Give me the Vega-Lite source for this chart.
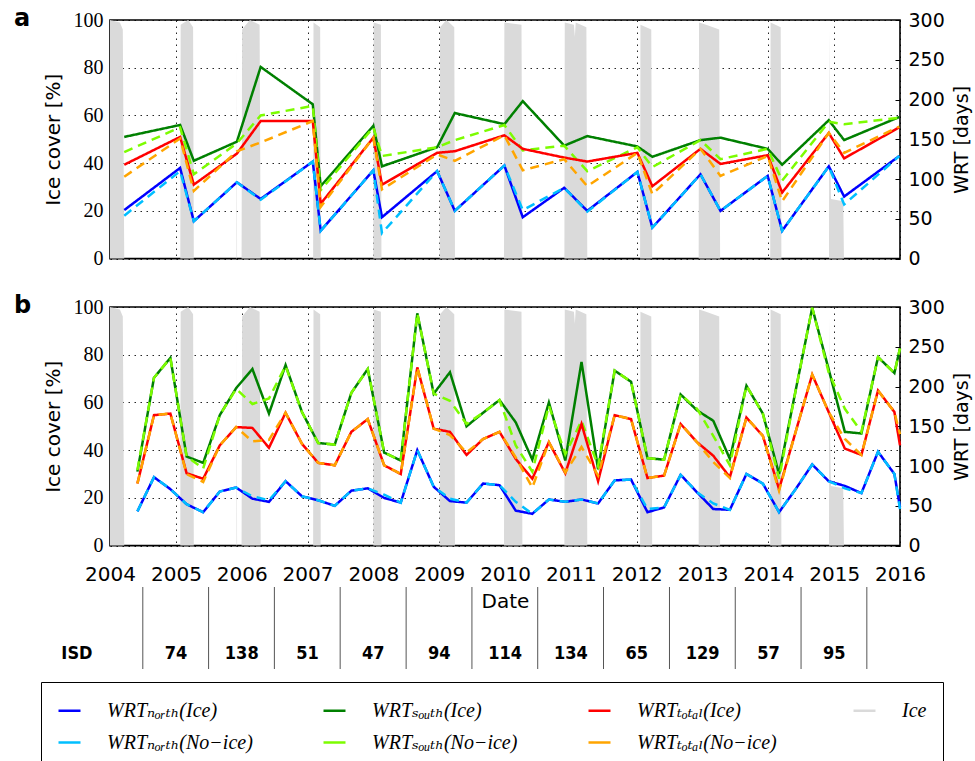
{
  "$schema": "https://vega.github.io/schema/vega-lite/v6.json",
  "background": "white",
  "padding": {"left": 13, "top": 6, "right": 2, "bottom": 0},
  "config": {
    "view": {"stroke": "#000", "strokeWidth": 1.6},
    "axis": {"domain": false, "gridColor": "#000", "gridDash": [1.5, 4.5], "gridOpacity": 0.85, "gridWidth": 1, "labelColor": "#000", "titleColor": "#000", "tickColor": "#000", "titleFontWeight": "normal", "zindex": 1},
    "legend": {
      "orient": "none", "legendX": -69, "legendY": 662, "columns": 4, "direction": "horizontal", "title": null, "gridAlign": "all",
      "symbolType": "stroke", "symbolSize": 484, "symbolStrokeWidth": 2.5,
      "labelFont": "Liberation Serif, DejaVu Serif", "labelFontStyle": "italic", "labelFontSize": 20, "labelLimit": 400, "labelColor": "#000",
      "labelOffset": 25, "columnPadding": 65, "rowPadding": 9, "padding": 16,
      "strokeColor": "#000", "fillColor": "white"
    }
  },
  "datasets": {
    "ice": [
      {"date": "2004-01-01", "ice": 100}, {"date": "2004-02-25", "ice": 99}, {"date": "2004-03-12", "ice": 96}, {"date": "2004-03-20", "ice": 0},
      {"date": "2005-01-25", "ice": 0}, {"date": "2005-01-27", "ice": 98}, {"date": "2005-03-10", "ice": 100}, {"date": "2005-04-06", "ice": 97}, {"date": "2005-04-10", "ice": 0},
      {"date": "2005-12-03", "ice": 0}, {"date": "2005-12-04", "ice": 90}, {"date": "2005-12-06", "ice": 0},
      {"date": "2005-12-31", "ice": 0}, {"date": "2006-01-03", "ice": 96}, {"date": "2006-02-15", "ice": 100}, {"date": "2006-04-10", "ice": 98}, {"date": "2006-04-16", "ice": 0},
      {"date": "2007-02-01", "ice": 0}, {"date": "2007-02-03", "ice": 99}, {"date": "2007-03-12", "ice": 97}, {"date": "2007-03-15", "ice": 0},
      {"date": "2008-01-01", "ice": 0}, {"date": "2008-01-03", "ice": 99}, {"date": "2008-02-12", "ice": 98}, {"date": "2008-02-15", "ice": 0},
      {"date": "2009-01-03", "ice": 0}, {"date": "2009-01-05", "ice": 97}, {"date": "2009-02-10", "ice": 100}, {"date": "2009-03-25", "ice": 97}, {"date": "2009-03-29", "ice": 0},
      {"date": "2009-12-26", "ice": 0}, {"date": "2009-12-28", "ice": 99}, {"date": "2010-04-02", "ice": 98}, {"date": "2010-04-07", "ice": 0},
      {"date": "2010-11-26", "ice": 0}, {"date": "2010-11-28", "ice": 99}, {"date": "2011-01-18", "ice": 98}, {"date": "2011-01-23", "ice": 93}, {"date": "2011-01-28", "ice": 99}, {"date": "2011-03-28", "ice": 97}, {"date": "2011-04-02", "ice": 0},
      {"date": "2012-01-20", "ice": 0}, {"date": "2012-01-22", "ice": 98}, {"date": "2012-03-22", "ice": 96}, {"date": "2012-03-27", "ice": 0},
      {"date": "2012-12-10", "ice": 0}, {"date": "2012-12-12", "ice": 99}, {"date": "2013-01-20", "ice": 98}, {"date": "2013-04-03", "ice": 96}, {"date": "2013-04-08", "ice": 0},
      {"date": "2014-01-11", "ice": 0}, {"date": "2014-01-13", "ice": 99}, {"date": "2014-03-10", "ice": 97}, {"date": "2014-03-14", "ice": 0},
      {"date": "2014-12-03", "ice": 0}, {"date": "2014-12-05", "ice": 96}, {"date": "2014-12-10", "ice": 40}, {"date": "2014-12-14", "ice": 25}, {"date": "2015-02-20", "ice": 24}, {"date": "2015-02-24", "ice": 0},
      {"date": "2016-01-01", "ice": 0}
    ],
    "wrt_a": [
      {"date": "2004-03-20", "north_ice": 61, "north_noice": 54, "south_ice": 153, "south_noice": 134, "total_ice": 118, "total_noice": 103},
      {"date": "2005-01-24", "north_ice": 114, "north_noice": 110, "south_ice": 168, "south_noice": 165, "total_ice": 153, "total_noice": 151},
      {"date": "2005-04-10", "north_ice": 47, "north_noice": 47, "south_ice": 123, "south_noice": 106, "total_ice": 93, "total_noice": 85},
      {"date": "2005-12-05", "north_ice": 96, "north_noice": 96, "south_ice": 147, "south_noice": 145, "total_ice": 132, "total_noice": 135},
      {"date": "2006-04-16", "north_ice": 75, "north_noice": 74, "south_ice": 241, "south_noice": 180, "total_ice": 173, "total_noice": 146},
      {"date": "2007-01-30", "north_ice": 122, "north_noice": 122, "south_ice": 194, "south_noice": 192, "total_ice": 173, "total_noice": 173},
      {"date": "2007-03-15", "north_ice": 35, "north_noice": 35, "south_ice": 91, "south_noice": 86, "total_ice": 69, "total_noice": 65},
      {"date": "2008-01-01", "north_ice": 111, "north_noice": 111, "south_ice": 167, "south_noice": 165, "total_ice": 152, "total_noice": 152},
      {"date": "2008-02-18", "north_ice": 52, "north_noice": 32, "south_ice": 116, "south_noice": 129, "total_ice": 93, "total_noice": 87},
      {"date": "2008-12-20", "north_ice": 110, "north_noice": 110, "south_ice": 140, "south_noice": 140, "total_ice": 133, "total_noice": 131},
      {"date": "2009-03-28", "north_ice": 60, "north_noice": 60, "south_ice": 183, "south_noice": 149, "total_ice": 135, "total_noice": 123},
      {"date": "2009-12-28", "north_ice": 117, "north_noice": 117, "south_ice": 169, "south_noice": 168, "total_ice": 155, "total_noice": 155},
      {"date": "2010-04-09", "north_ice": 52, "north_noice": 61, "south_ice": 198, "south_noice": 136, "total_ice": 138, "total_noice": 111},
      {"date": "2010-11-25", "north_ice": 89, "north_noice": 89, "south_ice": 142, "south_noice": 142, "total_ice": 127, "total_noice": 125},
      {"date": "2011-04-02", "north_ice": 60, "north_noice": 59, "south_ice": 154, "south_noice": 110, "total_ice": 122, "total_noice": 91},
      {"date": "2012-01-05", "north_ice": 109, "north_noice": 109, "south_ice": 141, "south_noice": 140, "total_ice": 133, "total_noice": 133},
      {"date": "2012-03-28", "north_ice": 39, "north_noice": 39, "south_ice": 128, "south_noice": 115, "total_ice": 91, "total_noice": 81},
      {"date": "2012-12-20", "north_ice": 106, "north_noice": 106, "south_ice": 149, "south_noice": 149, "total_ice": 138, "total_noice": 138},
      {"date": "2013-04-10", "north_ice": 60, "north_noice": 60, "south_ice": 152, "south_noice": 125, "total_ice": 119, "total_noice": 104},
      {"date": "2013-12-28", "north_ice": 104, "north_noice": 104, "south_ice": 138, "south_noice": 138, "total_ice": 130, "total_noice": 129},
      {"date": "2014-03-18", "north_ice": 35, "north_noice": 35, "south_ice": 118, "south_noice": 98, "total_ice": 83, "total_noice": 72},
      {"date": "2014-12-02", "north_ice": 116, "north_noice": 116, "south_ice": 174, "south_noice": 172, "total_ice": 158, "total_noice": 158},
      {"date": "2015-02-25", "north_ice": 78, "north_noice": 68, "south_ice": 149, "south_noice": 169, "total_ice": 126, "total_noice": 133},
      {"date": "2015-12-28", "north_ice": 129, "north_noice": 129, "south_ice": 178, "south_noice": 177, "total_ice": 165, "total_noice": 166}
    ],
    "wrt_b": [
      {"date": "2004-06-01", "north_ice": 43, "north_noice": 43, "south_ice": 93, "south_noice": 95, "total_ice": 78, "total_noice": 78},
      {"date": "2004-09-01", "north_ice": 86, "north_noice": 86, "south_ice": 211, "south_noice": 211, "total_ice": 164, "total_noice": 164},
      {"date": "2004-12-01", "north_ice": 71, "north_noice": 71, "south_ice": 236, "south_noice": 236, "total_ice": 166, "total_noice": 166},
      {"date": "2005-03-01", "north_ice": 52, "north_noice": 52, "south_ice": 112, "south_noice": 112, "total_ice": 91, "total_noice": 90},
      {"date": "2005-06-01", "north_ice": 42, "north_noice": 42, "south_ice": 104, "south_noice": 97, "total_ice": 84, "total_noice": 80},
      {"date": "2005-09-01", "north_ice": 68, "north_noice": 68, "south_ice": 164, "south_noice": 164, "total_ice": 126, "total_noice": 126},
      {"date": "2005-12-01", "north_ice": 73, "north_noice": 73, "south_ice": 198, "south_noice": 197, "total_ice": 149, "total_noice": 149},
      {"date": "2006-03-01", "north_ice": 59, "north_noice": 62, "south_ice": 222, "south_noice": 178, "total_ice": 148, "total_noice": 131},
      {"date": "2006-06-01", "north_ice": 55, "north_noice": 57, "south_ice": 166, "south_noice": 185, "total_ice": 123, "total_noice": 133},
      {"date": "2006-09-01", "north_ice": 81, "north_noice": 81, "south_ice": 227, "south_noice": 226, "total_ice": 167, "total_noice": 167},
      {"date": "2006-12-01", "north_ice": 62, "north_noice": 62, "south_ice": 168, "south_noice": 168, "total_ice": 128, "total_noice": 128},
      {"date": "2007-03-01", "north_ice": 57, "north_noice": 57, "south_ice": 129, "south_noice": 129, "total_ice": 104, "total_noice": 104},
      {"date": "2007-06-01", "north_ice": 50, "north_noice": 50, "south_ice": 127, "south_noice": 127, "total_ice": 101, "total_noice": 101},
      {"date": "2007-09-01", "north_ice": 69, "north_noice": 69, "south_ice": 192, "south_noice": 192, "total_ice": 143, "total_noice": 143},
      {"date": "2007-12-01", "north_ice": 72, "north_noice": 72, "south_ice": 222, "south_noice": 222, "total_ice": 159, "total_noice": 159},
      {"date": "2008-03-01", "north_ice": 60, "north_noice": 64, "south_ice": 117, "south_noice": 117, "total_ice": 101, "total_noice": 101},
      {"date": "2008-06-01", "north_ice": 54, "north_noice": 54, "south_ice": 107, "south_noice": 107, "total_ice": 90, "total_noice": 90},
      {"date": "2008-09-01", "north_ice": 120, "north_noice": 120, "south_ice": 292, "south_noice": 292, "total_ice": 224, "total_noice": 224},
      {"date": "2008-12-01", "north_ice": 74, "north_noice": 74, "south_ice": 191, "south_noice": 191, "total_ice": 147, "total_noice": 147},
      {"date": "2009-03-01", "north_ice": 56, "north_noice": 59, "south_ice": 218, "south_noice": 182, "total_ice": 143, "total_noice": 139},
      {"date": "2009-06-01", "north_ice": 54, "north_noice": 54, "south_ice": 150, "south_noice": 153, "total_ice": 114, "total_noice": 117},
      {"date": "2009-09-01", "north_ice": 78, "north_noice": 78, "south_ice": 167, "south_noice": 167, "total_ice": 134, "total_noice": 134},
      {"date": "2009-12-01", "north_ice": 76, "north_noice": 76, "south_ice": 183, "south_noice": 183, "total_ice": 143, "total_noice": 143},
      {"date": "2010-03-01", "north_ice": 44, "north_noice": 55, "south_ice": 155, "south_noice": 126, "total_ice": 109, "total_noice": 111},
      {"date": "2010-06-01", "north_ice": 40, "north_noice": 40, "south_ice": 108, "south_noice": 93, "total_ice": 84, "total_noice": 73},
      {"date": "2010-09-01", "north_ice": 58, "north_noice": 58, "south_ice": 180, "south_noice": 176, "total_ice": 130, "total_noice": 130},
      {"date": "2010-12-01", "north_ice": 55, "north_noice": 55, "south_ice": 107, "south_noice": 115, "total_ice": 91, "total_noice": 92},
      {"date": "2011-03-01", "north_ice": 58, "north_noice": 58, "south_ice": 231, "south_noice": 157, "total_ice": 153, "total_noice": 124},
      {"date": "2011-06-01", "north_ice": 53, "north_noice": 53, "south_ice": 96, "south_noice": 100, "total_ice": 81, "total_noice": 88},
      {"date": "2011-09-01", "north_ice": 82, "north_noice": 82, "south_ice": 220, "south_noice": 220, "total_ice": 164, "total_noice": 164},
      {"date": "2011-12-01", "north_ice": 83, "north_noice": 83, "south_ice": 206, "south_noice": 206, "total_ice": 159, "total_noice": 159},
      {"date": "2012-03-01", "north_ice": 42, "north_noice": 46, "south_ice": 110, "south_noice": 110, "total_ice": 85, "total_noice": 85},
      {"date": "2012-06-01", "north_ice": 48, "north_noice": 48, "south_ice": 108, "south_noice": 108, "total_ice": 88, "total_noice": 88},
      {"date": "2012-09-01", "north_ice": 89, "north_noice": 89, "south_ice": 190, "south_noice": 190, "total_ice": 153, "total_noice": 153},
      {"date": "2012-12-01", "north_ice": 67, "north_noice": 67, "south_ice": 170, "south_noice": 172, "total_ice": 130, "total_noice": 130},
      {"date": "2013-03-01", "north_ice": 46, "north_noice": 53, "south_ice": 157, "south_noice": 138, "total_ice": 113, "total_noice": 105},
      {"date": "2013-06-01", "north_ice": 45, "north_noice": 45, "south_ice": 109, "south_noice": 101, "total_ice": 86, "total_noice": 85},
      {"date": "2013-09-01", "north_ice": 90, "north_noice": 90, "south_ice": 201, "south_noice": 201, "total_ice": 161, "total_noice": 161},
      {"date": "2013-12-01", "north_ice": 78, "north_noice": 78, "south_ice": 166, "south_noice": 166, "total_ice": 138, "total_noice": 138},
      {"date": "2014-03-01", "north_ice": 42, "north_noice": 42, "south_ice": 90, "south_noice": 84, "total_ice": 71, "total_noice": 69},
      {"date": "2014-06-01", "north_ice": 71, "north_noice": 71, "south_ice": 195, "south_noice": 195, "total_ice": 143, "total_noice": 143},
      {"date": "2014-09-01", "north_ice": 102, "north_noice": 102, "south_ice": 299, "south_noice": 299, "total_ice": 215, "total_noice": 215},
      {"date": "2014-12-01", "north_ice": 81, "north_noice": 81, "south_ice": 222, "south_noice": 218, "total_ice": 168, "total_noice": 168},
      {"date": "2015-03-01", "north_ice": 75, "north_noice": 72, "south_ice": 143, "south_noice": 172, "total_ice": 122, "total_noice": 134},
      {"date": "2015-06-01", "north_ice": 66, "north_noice": 66, "south_ice": 141, "south_noice": 143, "total_ice": 114, "total_noice": 114},
      {"date": "2015-09-01", "north_ice": 118, "north_noice": 118, "south_ice": 237, "south_noice": 237, "total_ice": 195, "total_noice": 195},
      {"date": "2015-12-01", "north_ice": 90, "north_noice": 90, "south_ice": 217, "south_noice": 217, "total_ice": 168, "total_noice": 168},
      {"date": "2016-01-01", "north_ice": 48, "north_noice": 46, "south_ice": 248, "south_noice": 248, "total_ice": 126, "total_noice": 140}
    ],
    "isd_sep": [
      {"date": "2004-07-01"}, {"date": "2005-07-01"}, {"date": "2006-07-01"}, {"date": "2007-07-01"}, {"date": "2008-07-01"}, {"date": "2009-07-01"},
      {"date": "2010-07-01"}, {"date": "2011-07-01"}, {"date": "2012-07-01"}, {"date": "2013-07-01"}, {"date": "2014-07-01"}, {"date": "2015-07-01"}
    ],
    "isd": [
      {"date": "2005-01-01", "row": "ISD", "isd": 74}, {"date": "2006-01-01", "row": "ISD", "isd": 138}, {"date": "2007-01-01", "row": "ISD", "isd": 51},
      {"date": "2008-01-01", "row": "ISD", "isd": 47}, {"date": "2009-01-01", "row": "ISD", "isd": 94}, {"date": "2010-01-01", "row": "ISD", "isd": 114},
      {"date": "2011-01-01", "row": "ISD", "isd": 134}, {"date": "2012-01-01", "row": "ISD", "isd": 65}, {"date": "2013-01-01", "row": "ISD", "isd": 129},
      {"date": "2014-01-01", "row": "ISD", "isd": 57}, {"date": "2015-01-01", "row": "ISD", "isd": 95}
    ]
  },
  "vconcat": [
    {
      "spacing": 23,
      "vconcat": [
        {
          "width": 790, "height": 238.6,
          "title": {"text": "a", "anchor": "start", "frame": "group", "dx": -96, "dy": 40, "offset": 0, "baseline": "alphabetic", "fontSize": 24, "fontWeight": "bold", "font": "DejaVu Sans", "color": "#000"},
          "layer": [
            {
              "data": {"name": "ice"},
              "mark": {"type": "area", "interpolate": "linear", "opacity": 1},
              "encoding": {
                "x": {"field": "date", "type": "temporal", "scale": {"domain": ["2004-01-01", "2016-01-01"]},
                      "axis": {"orient": "bottom", "title": null, "labels": false, "ticks": false, "grid": true, "tickCount": {"interval": "year", "step": 1}}},
                "y": {"field": "ice", "type": "quantitative", "scale": {"domain": [0, 100], "nice": false},
                      "axis": {"orient": "left", "values": [0, 20, 40, 60, 80, 100], "grid": true, "ticks": false, "labelFont": "Liberation Serif", "labelFontSize": 20, "labelPadding": 7, "title": "Ice cover [%]", "titleFont": "DejaVu Sans", "titleFontSize": 20, "titlePadding": 10}},
                "color": {"datum": "ice", "type": "nominal",
                          "scale": {"domain": ["north_ice", "south_ice", "total_ice", "ice", "north_noice", "south_noice", "total_noice"],
                                    "range": ["#0000ff", "#008000", "#ff0000", "#dadada", "#00bfff", "#7cfc00", "#ffa500"]},
                          "legend": {
                            "labelExpr": "datum.value == 'north_ice' ? 'WRTₙₒᵣₜₕ(Ice)' : datum.value == 'south_ice' ? 'WRTₛₒᵤₜₕ(Ice)' : datum.value == 'total_ice' ? 'WRTₜₒₜₐₗ(Ice)' : datum.value == 'north_noice' ? 'WRTₙₒᵣₜₕ(No−ice)' : datum.value == 'south_noice' ? 'WRTₛₒᵤₜₕ(No−ice)' : datum.value == 'total_noice' ? 'WRTₜₒₜₐₗ(No−ice)' : 'Ice'",
                            "encode": {
                              "symbols": {"update": {
                                "shape": {"value": "M-1.85,0L1.85,0"},
                                "fill": {"value": "transparent"},
                                "stroke": {"signal": "scale('color', datum.value)"},
                                "strokeDash": {"signal": "indexof(datum.value, 'noice') >= 0 ? [11, 13] : [1, 0]"},
                                "strokeWidth": {"signal": "datum.value === 'ice' ? 15 : 2.5"},
                                "strokeCap": {"value": "butt"},
                                "opacity": {"value": 1}
                              }},
                              "legend": {"update": {"strokeWidth": {"value": 2}}}
                            }
                          }}
              }
            },
            {
              "data": {"name": "wrt_a"},
              "transform": [{"fold": ["north_ice", "north_noice", "south_ice", "south_noice", "total_ice", "total_noice"], "as": ["series", "days"]}],
              "mark": {"type": "line", "strokeWidth": 2.5},
              "encoding": {
                "x": {"field": "date", "type": "temporal"},
                "y": {"field": "days", "type": "quantitative", "scale": {"domain": [0, 300], "nice": false},
                      "axis": {"orient": "right", "values": [0, 50, 100, 150, 200, 250, 300], "grid": false, "ticks": true, "tickSize": -5, "labelFont": "DejaVu Sans", "labelFontSize": 19, "labelPadding": 13, "title": "WRT [days]", "titleFont": "DejaVu Sans", "titleFontSize": 19, "titleAngle": 270, "titleBaseline": "top", "titlePadding": 8}},
                "color": {"field": "series", "type": "nominal"},
                "strokeDash": {"field": "series", "type": "nominal", "legend": null,
                               "scale": {"domain": ["north_ice", "north_noice", "south_ice", "south_noice", "total_ice", "total_noice"], "range": [[1, 0], [9, 6], [1, 0], [9, 6], [1, 0], [9, 6]]}}
              }
            }
          ],
          "resolve": {"scale": {"y": "independent"}}
        },
        {
          "width": 790, "height": 238.6,
          "title": {"text": "b", "anchor": "start", "frame": "group", "dx": -96, "dy": 40, "offset": 0, "baseline": "alphabetic", "fontSize": 24, "fontWeight": "bold", "font": "DejaVu Sans", "color": "#000"},
          "layer": [
            {
              "data": {"name": "ice"},
              "mark": {"type": "area", "interpolate": "linear", "opacity": 1},
              "encoding": {
                "x": {"field": "date", "type": "temporal", "scale": {"domain": ["2004-01-01", "2016-01-01"]},
                      "axis": {"orient": "bottom", "title": null, "format": "%Y", "labels": true, "ticks": false, "grid": true, "tickCount": {"interval": "year", "step": 1}, "labelFont": "DejaVu Sans", "labelFontSize": 20, "labelPadding": 19, "labelFlush": false, "labelOverlap": false}},
                "y": {"field": "ice", "type": "quantitative", "scale": {"domain": [0, 100], "nice": false},
                      "axis": {"orient": "left", "values": [0, 20, 40, 60, 80, 100], "grid": true, "ticks": false, "labelFont": "Liberation Serif", "labelFontSize": 20, "labelPadding": 7, "title": "Ice cover [%]", "titleFont": "DejaVu Sans", "titleFontSize": 20, "titlePadding": 10}},
                "color": {"datum": "ice", "type": "nominal"}
              }
            },
            {
              "data": {"name": "wrt_b"},
              "transform": [{"fold": ["north_ice", "north_noice", "south_ice", "south_noice", "total_ice", "total_noice"], "as": ["series", "days"]}],
              "mark": {"type": "line", "strokeWidth": 2.5},
              "encoding": {
                "x": {"field": "date", "type": "temporal"},
                "y": {"field": "days", "type": "quantitative", "scale": {"domain": [0, 300], "nice": false},
                      "axis": {"orient": "right", "values": [0, 50, 100, 150, 200, 250, 300], "grid": false, "ticks": true, "tickSize": -5, "labelFont": "DejaVu Sans", "labelFontSize": 19, "labelPadding": 13, "title": "WRT [days]", "titleFont": "DejaVu Sans", "titleFontSize": 19, "titleAngle": 270, "titleBaseline": "top", "titlePadding": 8}},
                "color": {"field": "series", "type": "nominal"},
                "strokeDash": {"field": "series", "type": "nominal", "legend": null}
              }
            }
          ],
          "resolve": {"scale": {"y": "independent"}}
        }
      ]
    },
    {
      "width": 790, "height": 82,
      "view": {"stroke": null},
      "layer": [
        {
          "data": {"name": "isd_sep"},
          "mark": {"type": "rule", "color": "#555", "strokeWidth": 1},
          "encoding": {
            "x": {"field": "date", "type": "temporal", "scale": {"domain": ["2004-01-01", "2016-01-01"]},
                  "axis": {"orient": "top", "title": "Date", "titleY": 14, "titleBaseline": "middle", "titleFont": "DejaVu Sans", "titleFontSize": 20, "labels": false, "ticks": false, "grid": false, "domain": false}}
          }
        },
        {
          "data": {"name": "isd"},
          "mark": {"type": "text", "fontSize": 18, "fontWeight": "bold", "font": "Liberation Sans Narrow, DejaVu Sans Condensed, Liberation Sans", "color": "#000"},
          "encoding": {
            "x": {"field": "date", "type": "temporal"},
            "y": {"field": "row", "type": "nominal", "scale": {"type": "band", "domain": ["ISD"], "paddingInner": 0, "paddingOuter": 0.87, "align": 1},
                  "axis": {"orient": "left", "title": null, "domain": false, "ticks": false, "grid": false, "labelFont": "Liberation Sans Narrow, DejaVu Sans Condensed, Liberation Sans", "labelFontWeight": "bold", "labelFontSize": 18, "labelPadding": 18}},
            "text": {"field": "isd", "type": "quantitative"}
          }
        }
      ]
    }
  ],
  "spacing": 0
}
